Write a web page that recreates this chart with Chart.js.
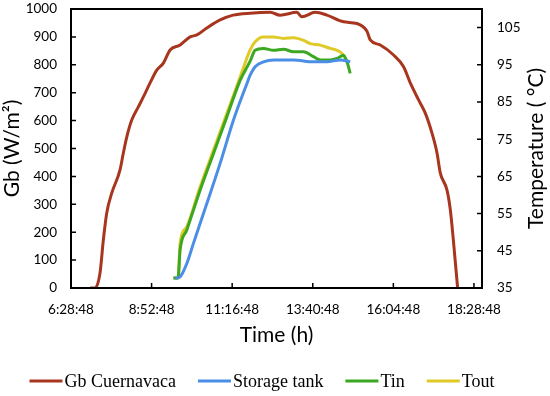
<!DOCTYPE html>
<html>
<head>
<meta charset="utf-8">
<script src="https://cdn.jsdelivr.net/npm/chart.js@4.4.1/dist/chart.umd.min.js"></script>
<style>
html,body{margin:0;padding:0;background:#fff;}
#wrap{width:550px;height:396px;}
</style>
</head>
<body>
<div id="wrap"><canvas id="c" width="550" height="396"></canvas></div>
<script>
// ---- data (time in hours) ----
const gbTime = [7.05,7.195,7.344,7.443,7.544,7.693,7.940,8.039,8.140,8.289,8.486,8.635,8.835,9.034,9.231,9.431,9.729,10.027,10.227,10.525,10.921,11.309,11.815,12.411,12.709,13.207,13.356,13.753,14.101,14.596,14.996,15.294,15.392,15.690,16.087,16.385,16.584,16.832,17.031,17.231,17.380,17.479,17.678,17.777,17.875,17.994];
const gbValues = [0,0,54,172,269,340,423,484,541,602,649,685,735,781,806,853,871,900,907,932,961,978,985,988,978,988,972,988,978,954,948,920,889,871,835,793,735,674,627,555,484,412,351,280,161,0];

const tankTime = [9.58,9.729,9.929,10.126,10.525,10.921,11.317,11.717,11.815,11.964,12.212,12.510,13.106,13.702,14.101,14.498,14.796];
const tankValues = [37.6,38.0,41.6,47.0,57.7,68.5,80.1,89.9,92.2,94.5,95.8,96.3,96.3,95.8,95.8,96.3,95.8];

const tinTime = [9.529,9.669,9.729,9.929,10.325,10.721,11.121,11.517,11.815,11.964,12.212,12.510,12.808,13.106,13.404,13.702,13.902,14.200,14.400,14.596,14.698,14.796];
const tinValues = [37.7,37.7,45.2,50.6,61.3,71.1,81.0,90.8,96.0,98.9,99.4,98.9,99.2,98.5,98.5,97.2,96.3,96.3,96.7,97.6,95.8,92.7];

const toutTime = [9.529,9.669,9.729,9.929,10.325,10.721,11.121,11.517,11.815,11.964,12.212,12.510,12.808,13.106,13.404,13.604,13.902,14.200,14.400,14.596,14.698];
const toutValues = [37.7,37.7,47.0,51.5,62.2,72.0,81.9,91.7,99.0,101.2,102.5,102.5,102.1,102.3,101.6,100.7,100.3,99.4,98.9,97.6,95.8];

const xTickValues = [6.48,8.88,11.28,13.68,16.08,18.48];
const yLeftTicks = [0,100,200,300,400,500,600,700,800,900,1000];
const yRightTicks = [35,45,55,65,75,85,95,105];

const seriesNames = ['Gb Cuernavaca','Storage tank','Tin','Tout'];
const seriesColors = ['#A8361E','#4B8EE6','#3CA822','#E0CA28'];

function pts(t, v){ return t.map((x,i)=>({x:x,y:v[i]})); }
function fmtTime(h){
  const s = Math.round(h*3600);
  const hh = Math.floor(s/3600), mm = Math.floor((s%3600)/60), ss = s%60;
  return hh + ':' + String(mm).padStart(2,'0') + ':' + String(ss).padStart(2,'0');
}

const tickFont = {family:'Lato', size:13.5};
const titleFont = {family:'Lato', size:21};
const legendFont = '18px "Liberation Serif"';

const framePlugin = {
  id:'frame',
  afterDraw(chart){
    const {ctx, chartArea:a, scales} = chart;
    ctx.save();
    ctx.strokeStyle = '#000';
    ctx.lineWidth = 1.5;
    ctx.beginPath();
    scales.x.ticks.forEach(t=>{ const px = scales.x.getPixelForValue(t.value); ctx.moveTo(px,a.bottom); ctx.lineTo(px,a.bottom-5); });
    scales.y.ticks.forEach(t=>{ const py = scales.y.getPixelForValue(t.value); ctx.moveTo(a.left,py); ctx.lineTo(a.left+5,py); });
    scales.y1.ticks.forEach(t=>{ const py = scales.y1.getPixelForValue(t.value); ctx.moveTo(a.right,py); ctx.lineTo(a.right-5,py); });
    ctx.stroke();
    ctx.lineWidth = 2;
    ctx.strokeRect(a.left, a.top, a.right-a.left, a.bottom-a.top);
    // right axis title reading upward
    ctx.fillStyle = '#000';
    ctx.font = '21px Lato';
    ctx.textAlign = 'center';
    ctx.textBaseline = 'middle';
    ctx.save();
    ctx.translate(536, (a.top+a.bottom)/2);
    ctx.rotate(-Math.PI/2);
    ctx.fillText('Temperature ( \u00B0C)', 0, 0);
    ctx.restore();
    // legend
    ctx.font = legendFont;
    ctx.textAlign = 'left';
    const lineW = 33, gapText = 2, gapItem = 22, ly = 381;
    const widths = seriesNames.map(n=>ctx.measureText(n).width);
    let total = 0;
    widths.forEach((w,i)=>{ total += lineW + gapText + w + (i<widths.length-1?gapItem:0); });
    let x = (chart.width - total)/2 - 13;
    seriesNames.forEach((n,i)=>{
      ctx.strokeStyle = seriesColors[i];
      ctx.lineWidth = 3;
      ctx.beginPath(); ctx.moveTo(x, ly); ctx.lineTo(x+lineW, ly); ctx.stroke();
      ctx.fillStyle = '#000';
      ctx.fillText(n, x+lineW+gapText, ly+1);
      x += lineW + gapText + widths[i] + gapItem;
    });
    ctx.restore();
  }
};

new Chart(document.getElementById('c'), {
  type:'line',
  data:{
    datasets:[
      {label:seriesNames[0], data:pts(gbTime,gbValues), yAxisID:'y', borderColor:seriesColors[0], backgroundColor:seriesColors[0], borderWidth:3, pointRadius:0, cubicInterpolationMode:'monotone'},
      {label:seriesNames[1], data:pts(tankTime,tankValues), yAxisID:'y1', borderColor:seriesColors[1], backgroundColor:seriesColors[1], borderWidth:3, pointRadius:0, cubicInterpolationMode:'monotone'},
      {label:seriesNames[2], data:pts(tinTime,tinValues), yAxisID:'y1', borderColor:seriesColors[2], backgroundColor:seriesColors[2], borderWidth:3, pointRadius:0, cubicInterpolationMode:'monotone'},
      {label:seriesNames[3], data:pts(toutTime,toutValues), yAxisID:'y1', borderColor:seriesColors[3], backgroundColor:seriesColors[3], borderWidth:3, pointRadius:0, cubicInterpolationMode:'monotone'}
    ]
  },
  options:{
    responsive:false,
    animation:false,
    layout:{padding:{top:9,left:0,right:0,bottom:31}},
    plugins:{
      tooltip:{enabled:false},
      legend:{display:false}
    },
    scales:{
      x:{
        type:'linear',
        min:6.48, max:18.72,
        afterBuildTicks(s){ s.ticks = xTickValues.map(v=>({value:v})); },
        afterFit(s){ s.height = 77; s.paddingLeft = 0; s.paddingRight = 0; },
        ticks:{font:tickFont, color:'#000', padding:14, maxRotation:0, autoSkip:false, callback:(v)=>fmtTime(v)},
        grid:{display:false, drawTicks:false},
        border:{display:false},
        title:{display:true, text:'Time (h)', font:titleFont, color:'#000', padding:{top:0,bottom:17}}
      },
      y:{
        position:'left',
        min:0, max:1000,
        afterBuildTicks(s){ s.ticks = yLeftTicks.map(v=>({value:v})); },
        afterFit(s){ s.width = 71; s.paddingTop = 0; s.paddingBottom = 0; },
        ticks:{font:tickFont, color:'#000', padding:14, callback:(v)=>String(v)},
        grid:{display:false, drawTicks:false},
        border:{display:false},
        title:{display:true, text:'Gb (W/m\u00B2)', font:titleFont, color:'#000', padding:{top:0,bottom:0}}
      },
      y1:{
        position:'right',
        min:35, max:110,
        afterBuildTicks(s){ s.ticks = yRightTicks.map(v=>({value:v})); },
        afterFit(s){ s.width = 68; s.paddingTop = 0; s.paddingBottom = 0; },
        ticks:{font:tickFont, color:'#000', padding:15, callback:(v)=>String(v)},
        grid:{display:false, drawTicks:false},
        border:{display:false}
      }
    }
  },
  plugins:[framePlugin]
});
</script>
</body>
</html>
